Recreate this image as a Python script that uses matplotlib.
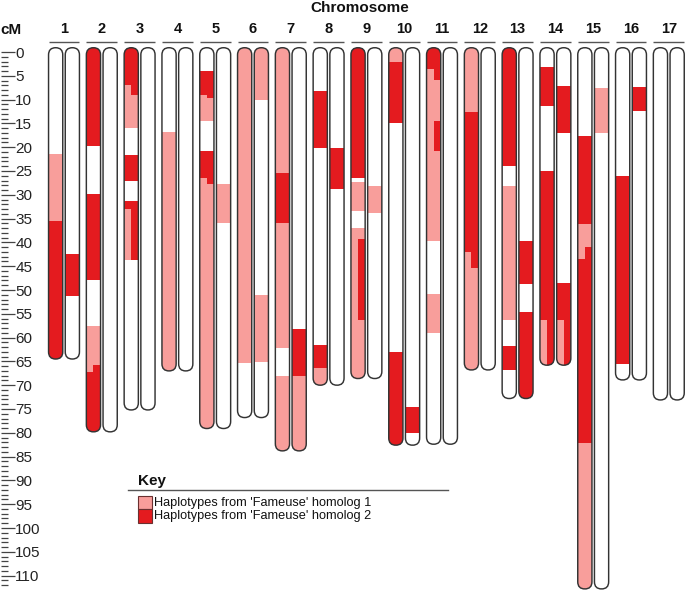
import matplotlib
matplotlib.use('Agg')
import matplotlib.pyplot as plt
from matplotlib.patches import FancyBboxPatch, Rectangle
from matplotlib.lines import Line2D
from matplotlib.ticker import FixedLocator

plt.rcParams['font.family'] = ['Liberation Sans', 'DejaVu Sans']

# ---------------- data ----------------
chromosomes = list(range(1, 18))
chrom_lengths = [63.6, 78.9, 74.3, 66.1, 78.2, 75.9, 82.9, 69.1, 67.7,
                 81.7, 81.5, 65.9, 71.9, 64.9, 111.9, 68.0, 72.2]

hap_labels = ["Haplotypes from 'Fameuse' homolog 1",
              "Haplotypes from 'Fameuse' homolog 2"]
hap_colors = ['#F89E9B', '#E41B1F']

# (chromosome, start cM, end cM, haplotype, side)  side: F full, L left half, R right half
homolog1_segments = [
    (1, 21.4, 35.5, 1, 'F'), (1, 35.5, 64.5, 2, 'F'),
    (2, 0, 19.7, 2, 'F'), (2, 29.9, 47.9, 2, 'F'), (2, 57.5, 65.8, 1, 'F'),
    (2, 65.8, 67.2, 1, 'L'), (2, 65.8, 67.2, 2, 'R'), (2, 67.2, 80.0, 2, 'F'),
    (3, 0, 6.9, 2, 'F'), (3, 6.9, 9.0, 1, 'L'), (3, 6.9, 9.0, 2, 'R'),
    (3, 9.0, 15.9, 1, 'F'), (3, 21.7, 27.0, 2, 'F'), (3, 31.4, 33.0, 2, 'F'),
    (3, 33.0, 43.8, 1, 'L'), (3, 33.0, 43.8, 2, 'R'),
    (4, 16.9, 67.0, 1, 'F'),
    (5, 4.0, 9.0, 2, 'F'), (5, 9.0, 9.6, 1, 'L'), (5, 9.0, 9.6, 2, 'R'),
    (5, 9.6, 14.5, 1, 'F'), (5, 20.9, 26.5, 2, 'F'), (5, 26.5, 27.7, 1, 'L'),
    (5, 26.5, 27.7, 2, 'R'), (5, 27.7, 79.1, 1, 'F'),
    (6, 0, 65.4, 1, 'F'),
    (7, 0, 25.5, 1, 'F'), (7, 25.5, 35.9, 2, 'F'), (7, 35.9, 62.1, 1, 'F'),
    (7, 68.1, 83.8, 1, 'F'),
    (8, 8.1, 20.2, 2, 'F'), (8, 61.6, 66.3, 2, 'F'), (8, 66.3, 70.0, 1, 'F'),
    (9, 0, 26.5, 2, 'F'), (9, 27.4, 33.3, 1, 'F'), (9, 37.0, 68.6, 1, 'L'),
    (9, 37.0, 39.3, 1, 'R'), (9, 39.3, 56.4, 2, 'R'), (9, 56.4, 68.6, 1, 'R'),
    (10, 0, 2.2, 1, 'F'), (10, 2.2, 15.0, 2, 'F'), (10, 63.1, 82.6, 2, 'F'),
    (11, 0, 3.6, 2, 'F'), (11, 3.6, 5.9, 1, 'L'), (11, 3.6, 5.9, 2, 'R'),
    (11, 5.9, 14.4, 1, 'F'), (11, 14.4, 20.9, 1, 'L'), (11, 14.4, 20.9, 2, 'R'),
    (11, 20.9, 39.7, 1, 'F'), (11, 50.8, 59.1, 1, 'F'),
    (12, 0, 12.5, 1, 'F'), (12, 12.5, 42.1, 2, 'F'), (12, 42.1, 45.4, 1, 'L'),
    (12, 42.1, 45.4, 2, 'R'), (12, 45.4, 66.8, 1, 'F'),
    (13, 0, 23.9, 2, 'F'), (13, 28.2, 56.3, 1, 'F'), (13, 61.8, 66.9, 2, 'F'),
    (14, 3.2, 11.3, 2, 'F'), (14, 25.0, 56.2, 2, 'F'), (14, 56.2, 65.8, 1, 'L'),
    (14, 56.2, 65.8, 2, 'R'),
    (15, 17.6, 36.1, 2, 'F'), (15, 36.1, 40.9, 1, 'F'), (15, 40.9, 43.4, 1, 'L'),
    (15, 40.9, 43.4, 2, 'R'), (15, 43.4, 82.1, 2, 'F'), (15, 82.1, 112.8, 1, 'F'),
    (16, 26.0, 65.5, 2, 'F'),
]
homolog2_segments = [
    (1, 42.4, 51.2, 2, 'F'),
    (5, 27.7, 36.0, 1, 'F'),
    (6, 0, 10.1, 1, 'F'), (6, 51.0, 65.1, 1, 'F'),
    (7, 58.2, 68.1, 2, 'F'), (7, 68.1, 83.8, 1, 'F'),
    (8, 20.2, 28.8, 2, 'F'),
    (9, 28.2, 33.9, 1, 'F'),
    (10, 74.6, 80.1, 2, 'F'),
    (13, 39.7, 48.7, 2, 'F'), (13, 54.6, 72.8, 2, 'F'),
    (14, 7.1, 17.1, 2, 'F'), (14, 48.6, 56.2, 2, 'F'), (14, 56.2, 65.8, 1, 'L'),
    (14, 56.2, 65.8, 2, 'R'),
    (15, 7.6, 17.1, 1, 'F'),
    (16, 7.3, 12.4, 2, 'F'),
]

major_ticks = list(range(0, 111, 5))
minor_ticks = [v for v in range(0, 113) if v % 5]

# ---------------- layout ----------------
W, H = 685, 592
fig = plt.figure(figsize=(W / 100, H / 100), dpi=100)
ax = fig.add_axes([0, 0, 1, 1])

px_per_chrom = 37.8
px_per_cM = 4.76
x0_px = 64.0   # pixel centre of chromosome 1
y0_px = 52.0   # pixel of 0 cM
ax.set_xlim(1 - x0_px / px_per_chrom, 1 + (W - x0_px) / px_per_chrom)
ax.set_ylim((H - y0_px) / px_per_cM, -y0_px / px_per_cM)

bar_off = 8.35 / px_per_chrom
bar_w = 14.2 / px_per_chrom
pad = 0.9
aspect = px_per_chrom / px_per_cM

clip_patches = {}
for ci, L in zip(chromosomes, chrom_lengths):
    for h in (0, 1):
        cx = ci + (-bar_off if h == 0 else bar_off)
        kw = dict(boxstyle=f"round,pad=0,rounding_size={bar_w / 2}",
                  mutation_aspect=aspect)
        bg = FancyBboxPatch((cx - bar_w / 2, -pad), bar_w, L + 2 * pad,
                            facecolor='white', edgecolor='none', zorder=1, **kw)
        ax.add_patch(bg)
        outline = FancyBboxPatch((cx - bar_w / 2, -pad), bar_w, L + 2 * pad,
                                 facecolor='none', edgecolor='#333333',
                                 linewidth=1.05, zorder=4, **kw)
        ax.add_patch(outline)
        clip_patches[(ci, h)] = (bg, cx, L)

for h, segs in enumerate([homolog1_segments, homolog2_segments]):
    for (ci, s, e, hap, side) in segs:
        bg, cx, L = clip_patches[(ci, h)]
        if s <= 0:
            s = -pad - 1
        if e >= L:
            e = L + pad + 1
        if side == 'F':
            left, w = cx - bar_w / 2, bar_w
        elif side == 'L':
            left, w = cx - bar_w / 2, bar_w / 2
        else:
            left, w = cx, bar_w / 2
        bars = ax.bar(left, e - s, width=w, bottom=s, align='edge',
                      color=hap_colors[hap - 1], linewidth=0, zorder=2)
        for r in bars:
            r.set_clip_path(bg)

# chromosome headers
for ci in chromosomes:
    ax.text(ci, -4.9, str(ci), ha='center', va='center',
            fontsize=10.5, fontweight='bold', color='#111')
    ax.plot([ci - bar_off - bar_w / 2, ci + bar_off + bar_w / 2], [-2.05, -2.05],
            color='#555', lw=1.0, solid_capstyle='butt')

fig.text(360 / W, 1 - 7.5 / H, 'Chromosome', ha='center', va='center',
         fontsize=11, fontweight='bold', color='#111')
fig.text(0 / W, 1 - 29.5 / H, 'cM', ha='left', va='center',
         fontsize=11, fontweight='bold', color='#111')

# cM scale: tick marks start at the left edge, labels to the right of the long ticks
for sp in ax.spines.values():
    sp.set_visible(False)
ax.set_xticks([])
xmin = ax.get_xlim()[0]
ax.spines['left'].set_position(('data', xmin + 0.5 / px_per_chrom))
ax.spines['right'].set_position(('data', xmin + 14.5 / px_per_chrom))
ax.set_yticks(major_ticks)
ax.set_yticklabels([str(v) for v in major_ticks])
ax.yaxis.set_minor_locator(FixedLocator(minor_ticks))
ax.tick_params(axis='y', which='both', left=True, right=False,
               labelleft=False, labelright=True)
ax.tick_params(axis='y', which='major', direction='in', length=10.3, width=0.9,
               color='#444', labelsize=11, pad=0.6, labelcolor='#222')
ax.tick_params(axis='y', which='minor', direction='in', length=5.0, width=0.9,
               color='#444')

# key
fig.text(138 / W, 1 - 481 / H, 'Key', ha='left', va='center',
         fontsize=11, fontweight='bold', color='#111')
fig.add_artist(Line2D([128 / W, 448 / W], [1 - 490 / H] * 2,
                      transform=fig.transFigure, color='#555', lw=1.0))
for k, (lab, col) in enumerate(zip(hap_labels, hap_colors)):
    top = 496 + k * 13.3
    fig.add_artist(Rectangle((137.5 / W, 1 - (top + 13.3) / H), 14.2 / W, 13.3 / H,
                             transform=fig.transFigure, facecolor=col,
                             edgecolor='#6a3030', lw=0.8))
    fig.text(153.5 / W, 1 - (top + 6.6) / H, lab, ha='left', va='center',
             fontsize=9.2, color='#111')

fig.savefig('out.png', dpi=100)
